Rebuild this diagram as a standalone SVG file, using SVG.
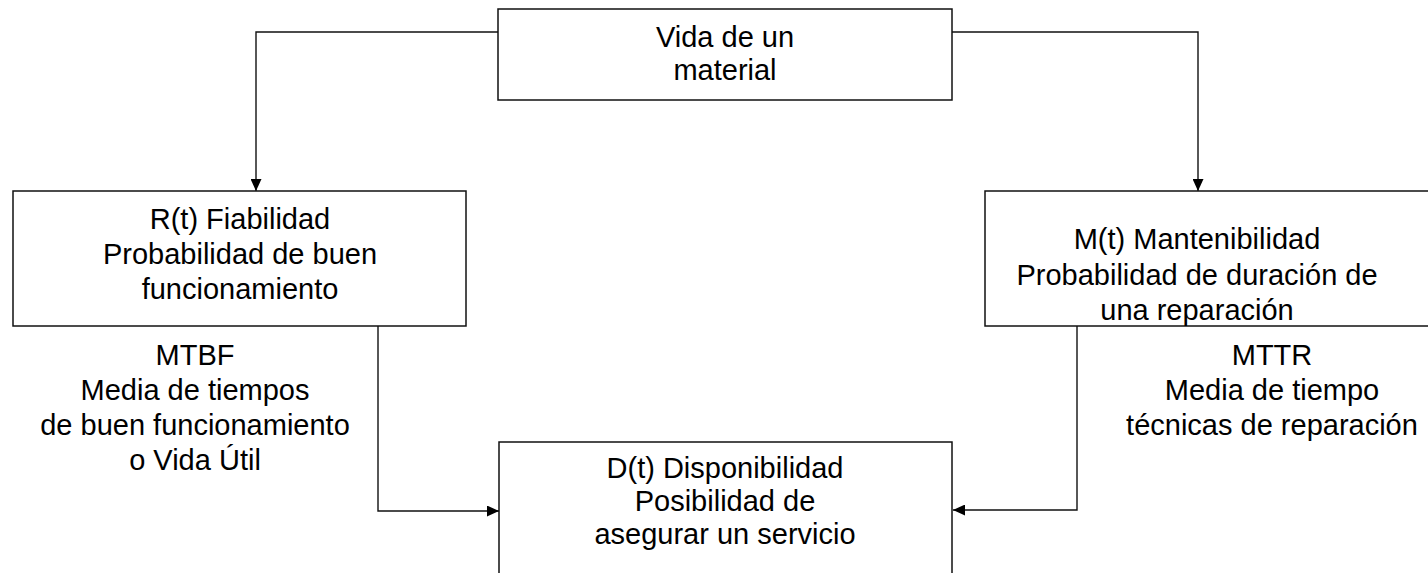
<svg xmlns="http://www.w3.org/2000/svg" width="1428" height="573" viewBox="0 0 1428 573">
<defs>
<style>
.box{fill:#fff;stroke:#111;stroke-width:1.5}
.conn{fill:none;stroke:#111;stroke-width:1.4}
text{font-family:"Liberation Sans",Arial,sans-serif;font-size:29px;fill:#000;text-anchor:middle}
</style>
<marker id="arr" markerUnits="userSpaceOnUse" markerWidth="12" markerHeight="11" refX="12" refY="5.5" orient="auto">
<path d="M0,0 L12,5.5 L0,11 z" fill="#000"/>
</marker>
</defs>
<rect width="1428" height="573" fill="#fff"/>
<g id="connectors">
<path class="conn" d="M498,32 H256 V191" marker-end="url(#arr)"/>
<path class="conn" d="M952,32 H1198 V191" marker-end="url(#arr)"/>
<path class="conn" d="M378,326 V511 H499" marker-end="url(#arr)"/>
<path class="conn" d="M1077,326 V510 H953" marker-end="url(#arr)"/>
</g>
<g id="vida">
<rect class="box" x="498" y="9" width="454" height="91"/>
<text x="725" y="47">Vida de un</text>
<text x="725" y="80">material</text>
</g>
<g id="fiabilidad">
<rect class="box" x="13" y="191" width="453" height="135"/>
<text x="240" y="229">R(t) Fiabilidad</text>
<text x="240" y="264">Probabilidad de buen</text>
<text x="240" y="299">funcionamiento</text>
</g>
<g id="mtbf">
<text x="195" y="365">MTBF</text>
<text x="195" y="400">Media de tiempos</text>
<text x="195" y="435">de buen funcionamiento</text>
<text x="195" y="470">o Vida Útil</text>
</g>
<g id="mantenibilidad">
<rect class="box" x="985" y="191" width="460" height="135"/>
<text x="1197" y="249">M(t) Mantenibilidad</text>
<text x="1197" y="285">Probabilidad de duración de</text>
<text x="1197" y="320">una reparación</text>
</g>
<g id="mttr">
<text x="1272" y="365">MTTR</text>
<text x="1272" y="400">Media de tiempo</text>
<text x="1272" y="435">técnicas de reparación</text>
</g>
<g id="disponibilidad">
<rect class="box" x="499" y="442" width="453" height="150"/>
<text x="725" y="478">D(t) Disponibilidad</text>
<text x="725" y="511">Posibilidad de</text>
<text x="725" y="544">asegurar un servicio</text>
</g>
</svg>
